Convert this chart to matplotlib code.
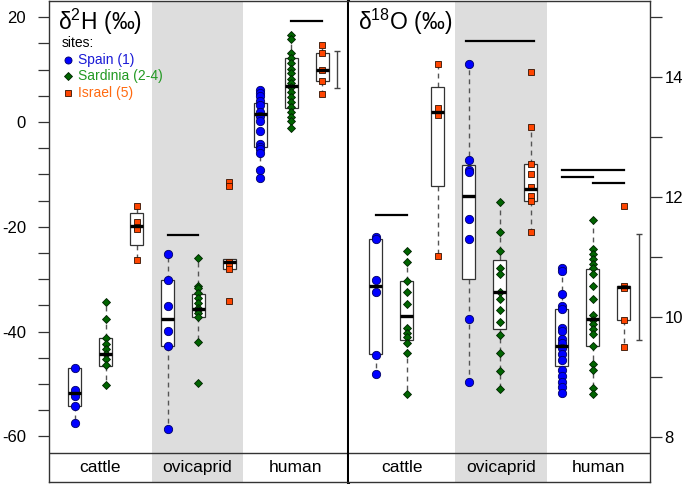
import matplotlib
matplotlib.use("Agg")
import matplotlib.pyplot as plt

plt.rcParams['font.family'] = ['Liberation Sans', 'DejaVu Sans']
plt.rcParams['mathtext.fontset'] = 'custom'
plt.rcParams['mathtext.rm'] = 'Liberation Sans'
plt.rcParams['mathtext.default'] = 'regular'
plt.rcParams['axes.unicode_minus'] = False

groups = ['cattle', 'ovicaprid', 'human']
site_labels = ['Spain (1)', 'Sardinia (2-4)', 'Israel (5)']

# d2H, one list per group (cattle, ovicaprid, human)
h_spain = [[-47.0, -51.1, -52.2, -54.2, -57.4],
           [-25.1, -30.2, -35.2, -39.8, -42.7, -58.6],
           [6.2, 5.6, 5.0, 4.1, 3.2, 2.0, 1.2, 0.2, -1.7, -4.2, -4.8, -5.1, -5.9, -9.2, -10.6]]
h_sardinia = [[-34.3, -37.5, -41.3, -42.4, -43.4, -44.3, -45.3, -46.4, -50.2],
              [-25.9, -31.3, -31.7, -32.7, -33.6, -34.6, -35.4, -35.9, -36.5, -37.2, -41.9, -49.9],
              [16.6, 15.8, 13.1, 12.2, 11.2, 10.2, 9.3, 8.3, 7.4, 6.6, 5.8, 4.8, 3.9, 2.9, 2.0, 1.0, 0.1, -1.1]]
h_israel = [[-16.0, -19.0, -20.0, -20.5, -26.3],
            [-11.4, -12.3, -26.7, -27.3, -28.1, -34.2],
            [14.6, 13.1, 9.9, 7.9, 5.3]]

# d18O
o_spain = [[11.34, 11.30, 10.62, 10.41, 9.37, 9.05],
           [14.21, 12.61, 12.45, 12.41, 11.63, 11.30, 9.96, 8.91],
           [10.82, 10.76, 10.38, 10.18, 10.14, 9.81, 9.76, 9.64, 9.56, 9.48, 9.39, 9.29,
            9.12, 9.02, 8.92, 8.84, 8.73]]
o_sardinia = [[11.10, 10.91, 10.60, 10.41, 10.21, 9.81, 9.74, 9.66, 9.56, 9.40, 8.71],
              [11.91, 11.41, 11.10, 10.81, 10.71, 10.41, 10.30, 10.11, 9.91, 9.70, 9.40, 9.10, 8.80],
              [11.61, 11.13, 11.05, 10.97, 10.89, 10.81, 10.71, 10.51, 10.30, 10.03, 9.95, 9.88,
               9.80, 9.71, 9.51, 9.21, 9.12, 8.81, 8.71]]
o_israel = [[14.21, 13.48, 13.37, 11.02],
            [14.08, 13.17, 12.55, 12.38, 12.16, 12.02, 11.93, 11.41],
            [11.85, 10.51, 10.49, 9.95, 9.50]]

# box stats, order: cattle S/Sa/I, ovicaprid S/Sa/I, human S/Sa/I
h_q1 = [-54.2, -46.6, -23.5, -42.7, -37.3, -28.1, -4.8, 2.6, 7.8]
h_med = [-51.8, -44.3, -19.8, -37.5, -35.7, -26.8, 1.5, 6.9, 9.9]
h_q3 = [-47.0, -41.3, -17.4, -30.2, -32.8, -26.2, 3.6, 12.3, 13.1]
h_wlo = [-57.4, -50.2, -26.3, -58.6, -41.9, -28.1, -10.6, -1.1, 5.3]
h_whi = [-47.0, -34.3, -16.0, -25.1, -25.9, -26.2, 6.2, 16.6, 14.6]

o_q1 = [9.38, 9.61, 12.19, 10.63, 9.80, 11.93, 9.18, 9.51, 9.95]
o_med = [10.52, 10.01, 13.42, 12.02, 10.42, 12.14, 9.51, 9.97, 10.50]
o_q3 = [11.30, 10.60, 13.84, 12.53, 10.95, 12.55, 10.14, 10.80, 10.52]
o_wlo = [9.05, 8.71, 11.02, 8.91, 8.80, 11.41, 8.73, 8.71, 9.50]
o_whi = [11.34, 11.10, 14.21, 14.21, 11.91, 13.17, 10.82, 11.61, 10.52]

# significance bars (x from, x to, y)
h_sig = [(4, 5, -21.6), (8, 9, 19.3)]
o_sig = [(1, 2, 11.70), (3.9, 6.1, 14.6), (7, 9, 12.45), (7, 8, 12.34), (8, 9, 12.24)]

# range bars at the right of each panel
h_range = (6.4, 13.6)
o_range = (9.61, 11.39)

site_style = [dict(marker='o', mfc='#0000ff', mec='#000066', ms=6.0),
              dict(marker='D', mfc='#006400', mec='#002200', ms=4.5),
              dict(marker='s', mfc='#ff4500', mec='#331100', ms=4.4)]
text_colors = ['#1a1ad6', '#229922', '#ff6a10']
shade = '#dddddd'
edge = '#333333'

W, H = 685, 484
fig = plt.figure(figsize=(W / 100, H / 100), dpi=100)


def px(x, y):
    return x / W, 1 - y / H


axL = fig.add_axes([49 / W, 2 / H, 299 / W, 481 / H])
axR = fig.add_axes([349 / W, 2 / H, 301 / W, 481 / H])


def draw_panel(ax, data, q1, med, q3, wlo, whi, sigs, rng, xlim, span, ylim, sep):
    ax.set_xlim(*xlim)
    ax.set_ylim(*ylim)
    ax.axvspan(span[0], span[1], color=shade, lw=0, zorder=0)
    ax.axhline(sep, color=edge, lw=1, zorder=1)
    stats = []
    for i in range(9):
        stats.append(dict(med=med[i], q1=q1[i], q3=q3[i], whislo=wlo[i], whishi=whi[i], fliers=[]))
    ax.bxp(stats, positions=range(1, 10), widths=0.42, patch_artist=True,
           showcaps=False, showfliers=False,
           boxprops=dict(facecolor='white', edgecolor=edge, linewidth=0.9, zorder=2),
           whiskerprops=dict(color='#555555', linestyle=(0, (3.5, 3)), linewidth=1, zorder=1.5),
           medianprops=dict(color='black', linewidth=2.4, zorder=4))
    for g in range(3):
        for s in range(3):
            vals = data[s][g]
            ax.plot([g * 3 + s + 1] * len(vals), vals, ls='none', mew=0.6,
                    zorder=3, clip_on=False, **site_style[s])
    for x0, x1, y in sigs:
        ax.plot([x0, x1], [y, y], color='black', lw=1.6, zorder=3)
    ax.errorbar([9.5], [(rng[0] + rng[1]) / 2], yerr=[(rng[1] - rng[0]) / 2],
                color='#444444', lw=1, capsize=2.5, capthick=1, zorder=3)
    centers = [(xlim[0] + span[0]) / 2, (span[0] + span[1]) / 2, (span[1] + xlim[1]) / 2]
    for c, g in zip(centers, groups):
        ax.text(c, (sep + ylim[0]) / 2, g, ha='center', va='center', fontsize=12.5)
    ax.set_xticks([])
    for sp in ax.spines.values():
        sp.set_color(edge)
        sp.set_linewidth(1)


draw_panel(axL, [h_spain, h_sardinia, h_israel], h_q1, h_med, h_q3, h_wlo, h_whi,
           h_sig, h_range, (0.16, 9.84), (3.49, 6.44), (-68.7, 23.09), -63.2)
draw_panel(axR, [o_spain, o_sardinia, o_israel], o_q1, o_med, o_q3, o_wlo, o_whi,
           o_sig, o_range, (0.13, 9.84), (3.55, 6.52), (7.25, 15.267), 7.73)

axL.set_yticks([20, 0, -20, -40, -60])
axL.set_yticks([15, 10, 5, -5, -10, -15, -25, -30, -35, -45, -50, -55], minor=True)
axL.tick_params(axis='y', which='both', direction='out', length=8, width=0.9,
                color=edge, labelsize=12, pad=8.5)
axL.spines['right'].set_linewidth(2.2)
axL.spines['right'].set_color('black')

axR.yaxis.tick_right()
axR.set_yticks([8, 10, 12, 14])
axR.set_yticks([9, 11, 13, 15], minor=True)
axR.tick_params(axis='y', which='both', direction='out', length=8.5, width=0.9,
                color=edge, labelsize=12, pad=2)
axR.spines['left'].set_visible(False)

fig.text(*px(58, 7), r'δ$^{2}$H (‰)', fontsize=16.5, ha='left', va='top')
fig.text(*px(358, 7), r'δ$^{18}$O (‰)', fontsize=16.5, ha='left', va='top')

# legend
fig.text(*px(62, 43), 'sites:', fontsize=10, ha='left', va='center')
leg_y = [60, 76, 93]
for s in range(3):
    st = dict(site_style[s])
    st['ms'] = st['ms'] * 0.85
    axL.plot([px(68, leg_y[s])[0]], [px(68, leg_y[s])[1]], ls='none', mew=0.6,
             transform=fig.transFigure, clip_on=False, zorder=5, **st)
    fig.text(*px(78, leg_y[s]), site_labels[s], fontsize=10, color=text_colors[s],
             ha='left', va='center')

fig.savefig('out.png', dpi=100)
